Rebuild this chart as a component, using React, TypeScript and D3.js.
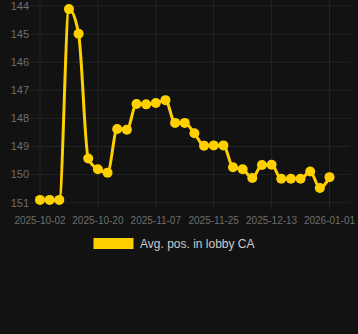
import React from "react";
import * as d3 from "d3";

const dates = [
  "2025-10-02", "2025-10-05", "2025-10-08", "2025-10-11", "2025-10-14", "2025-10-17",
  "2025-10-20", "2025-10-23", "2025-10-26", "2025-10-29", "2025-11-01", "2025-11-04",
  "2025-11-07", "2025-11-10", "2025-11-13", "2025-11-16", "2025-11-19", "2025-11-22",
  "2025-11-25", "2025-11-28", "2025-12-01", "2025-12-04", "2025-12-07", "2025-12-10",
  "2025-12-13", "2025-12-16", "2025-12-19", "2025-12-22", "2025-12-25", "2025-12-28",
  "2026-01-01",
];

const avgPos = [
  150.9, 150.9, 150.9, 144.11, 144.99, 149.43, 149.81, 149.93, 148.38, 148.4, 147.49,
  147.5, 147.45, 147.35, 148.16, 148.16, 148.53, 148.97, 148.96, 148.96, 149.74, 149.81,
  150.12, 149.66, 149.65, 150.15, 150.15, 150.15, 149.89, 150.48, 150.09,
];

const yTicks = [144, 145, 146, 147, 148, 149, 150, 151];
const xTickIdx = [0, 6, 12, 18, 24, 30];
const seriesName = "Avg. pos. in lobby CA";

const W = 358;
const H = 334;
const COLOR = "#ffd000";
const FONT = "'Liberation Sans', Arial, sans-serif";

export default function App() {
  const x = d3.scalePoint<number>().domain(d3.range(dates.length)).range([40, 329.5]);
  const y = d3.scaleLinear().domain([144, 151]).range([6, 202.7]);
  const line = d3
    .line<number>()
    .x((_, i) => x(i)!)
    .y((d) => y(d))
    .curve(d3.curveMonotoneX);

  const left = 30;
  const right = 350;
  const top = 0;
  const bottom = 210;

  return (
    <svg
      width={W}
      height={H}
      style={{ position: "absolute", left: 0, top: 0, background: "#121212" }}
    >
      <rect x={0} y={0} width={W} height={H} fill="#121212" />
      <g stroke="#232323" strokeWidth={1}>
        {yTicks.map((t) => (
          <line key={"h" + t} x1={left} x2={right} y1={y(t)} y2={y(t)} />
        ))}
        {xTickIdx.map((i) => (
          <line key={"v" + i} x1={x(i)} x2={x(i)} y1={top} y2={bottom} />
        ))}
      </g>
      <g fill="#6e6e6e" fontFamily={FONT} fontSize={11}>
        {yTicks.map((t) => (
          <text key={"yl" + t} x={29} y={y(t)} dy="0.35em" textAnchor="end">
            {t}
          </text>
        ))}
      </g>
      <g fill="#6e6e6e" fontFamily={FONT} fontSize={10}>
        {xTickIdx.map((i) => (
          <text key={"xl" + i} x={x(i)} y={224} textAnchor="middle">
            {dates[i]}
          </text>
        ))}
      </g>
      <path d={line(avgPos) || ""} fill="none" stroke={COLOR} strokeWidth={3} />
      <g fill={COLOR}>
        {avgPos.map((v, i) => (
          <circle key={"c" + i} cx={x(i)} cy={y(v)} r={5} />
        ))}
      </g>
      <rect x={93.5} y={238} width={40} height={11} fill={COLOR} />
      <text x={140} y={248} fill="#cccccc" fontFamily={FONT} fontSize={12}>
        {seriesName}
      </text>
    </svg>
  );
}
